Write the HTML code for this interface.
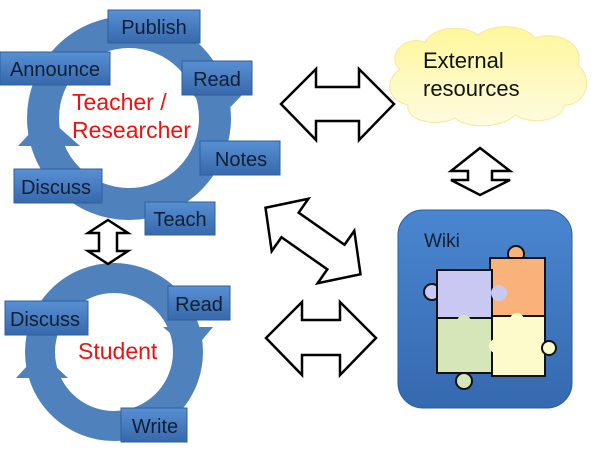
<!DOCTYPE html>
<html><head><style>
body{margin:0;background:#fff}
svg{display:block}
text{font-family:"Liberation Sans",sans-serif}
</style></head><body>
<svg width="600" height="450" viewBox="0 0 600 450" xmlns="http://www.w3.org/2000/svg">
<defs>
<linearGradient id="bx" x1="0" y1="0" x2="0" y2="1"><stop offset="0" stop-color="#5890d4"/><stop offset="1" stop-color="#3768ab"/></linearGradient>
<linearGradient id="cl" x1="0" y1="0" x2="0" y2="1"><stop offset="0" stop-color="#fdf79a"/><stop offset="1" stop-color="#fffbe0"/></linearGradient>
<linearGradient id="wk" x1="0" y1="0" x2="0" y2="1"><stop offset="0" stop-color="#4a86d0"/><stop offset="1" stop-color="#3569b0"/></linearGradient>
</defs>
<!-- top ring -->
<circle cx="129" cy="118" r="86" fill="none" stroke="#4f81bd" stroke-width="32"/>
<polygon points="193,95 242,95 218,120" fill="#4f81bd"/>
<polygon points="18,146 80,146 46,116" fill="#4f81bd"/>
<!-- bottom ring -->
<circle cx="114" cy="352" r="74" fill="none" stroke="#4f81bd" stroke-width="30"/>
<polygon points="163,327 213,327 192,352" fill="#4f81bd"/>
<polygon points="16,378 68,378 40,352" fill="#4f81bd"/>
<g stroke="#2f5f9a" stroke-width="1" fill="url(#bx)">
<rect x="108" y="10" width="92" height="33"/>
<rect x="0" y="52" width="110" height="33"/>
<rect x="182" y="61" width="70" height="34"/>
<rect x="200" y="141" width="80" height="34"/>
<rect x="14" y="169" width="88" height="34"/>
<rect x="145" y="202" width="70" height="33"/>
<rect x="5" y="301" width="83" height="34"/>
<rect x="168" y="286" width="62" height="34"/>
<rect x="121" y="408" width="66" height="34"/>
</g>
<g font-size="20" fill="#0f1f33" text-anchor="middle">
<text x="154" y="34">Publish</text>
<text x="55" y="76">Announce</text>
<text x="217" y="86">Read</text>
<text x="241" y="166">Notes</text>
<text x="56" y="194">Discuss</text>
<text x="180" y="226">Teach</text>
<text x="45" y="326">Discuss</text>
<text x="199" y="311">Read</text>
<text x="155" y="433">Write</text>
</g>
<g font-size="23" fill="#ee1111">
<text x="72" y="110">Teacher /</text>
<text x="72" y="138">Researcher</text>
<text x="78" y="359">Student</text>
</g>
<!-- arrows -->
<g fill="#fff" stroke="#000" stroke-width="2.5" stroke-linejoin="miter">
<polygon points="108,220 128,233 117,233 117,251 128,251 108,264 88,251 99,251 99,233 88,233"/>
<polygon points="281,104 316,69 316,87 359,87 359,69 394,104 359,140 359,121 316,121 316,140"/>
<polygon points="266,338 302,302 302,320 340,320 340,302 376,338 340,375 340,355 302,355 302,375"/>
<polygon points="451,171 480,148 510,171 492,171 492,180 510,180 480,195 451,180 468,180 468,171"/>
<g transform="translate(313,241) rotate(35)">
<polygon points="-58,0 -28,-32 -28,-15 28,-15 28,-32 58,0 28,32 28,15 -28,15 -28,32"/>
</g>
</g>
<!-- cloud -->
<path d="M400,70 C385,55 405,35 425,42 C435,25 465,25 478,35 C495,22 525,25 535,38 C560,30 585,45 578,65 C595,80 585,105 565,105 C560,122 530,125 515,115 C500,130 465,128 455,118 C435,128 405,120 408,105 C385,100 385,78 400,70 Z" fill="url(#cl)" stroke="#f3ea9a" stroke-width="1"/>
<text x="423" y="68" font-size="22" fill="#111">External</text>
<text x="423" y="96" font-size="22" fill="#111">resources</text>
<!-- wiki -->
<rect x="398" y="210" width="174" height="198" rx="25" fill="url(#wk)" stroke="#2c5d9c"/>
<text x="424" y="247" font-size="19" fill="#0f1f33">Wiki</text>
<g stroke="#111" stroke-width="2">
<circle cx="516" cy="254" r="8" fill="#f9b27a"/>
<rect x="490" y="258" width="55" height="58" fill="#f9b27a"/>
<circle cx="432" cy="292" r="8" fill="#c9c8f2"/>
<rect x="437" y="270" width="55" height="48" fill="#c9c8f2"/>
<circle cx="499" cy="293" r="8" fill="#c9c8f2" stroke="none"/>
<rect x="437" y="318" width="55" height="55" fill="#d5e6b8"/>
<circle cx="464" cy="381" r="8" fill="#d5e6b8"/>
<circle cx="464" cy="322" r="7" fill="#d5e6b8" stroke="none"/>
<rect x="492" y="316" width="53" height="60" fill="#fbfbcb"/>
<circle cx="549" cy="348" r="7" fill="#fbfbcb"/>
<circle cx="517" cy="320" r="7" fill="#fbfbcb" stroke="none"/>
<circle cx="496" cy="346" r="7" fill="#fbfbcb" stroke="none"/>
</g>
</svg>
</body></html>
